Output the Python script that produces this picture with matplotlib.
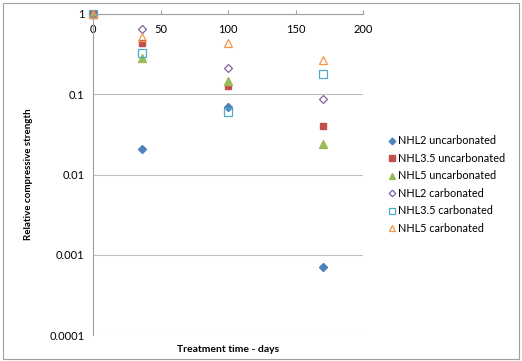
import matplotlib.pyplot as plt
from matplotlib.patches import Rectangle
from matplotlib.ticker import FixedLocator, FixedFormatter, NullLocator

plt.rcParams['font.family'] = ['Lato', 'DejaVu Sans']

days = [0, 36, 100, 170]
nhl2_unc = [1.0, 0.021, 0.070, 0.0007]
nhl35_unc = [1.0, 0.44, 0.128, 0.040]
nhl5_unc = [1.0, 0.28, 0.145, 0.024]
nhl2_carb = [1.0, 0.65, 0.21, 0.087]
nhl35_carb = [1.0, 0.33, 0.060, 0.18]
nhl5_carb = [1.0, 0.52, 0.43, 0.27]

labels = ['NHL2 uncarbonated', 'NHL3.5 uncarbonated', 'NHL5 uncarbonated',
          'NHL2 carbonated', 'NHL3.5 carbonated', 'NHL5 carbonated']
y_ticks = [1, 0.1, 0.01, 0.001, 0.0001]
y_tick_labels = ['1', '0.1', '0.01', '0.001', '0.0001']
x_ticks = [0, 50, 100, 150, 200]

fig = plt.figure(figsize=(5.22, 3.61), dpi=100)
ax = fig.add_axes([93 / 522, 1 - 335 / 361, 270 / 522, 321 / 361])

ax.plot(days, nhl2_unc, 'D', color='#4F81BD', ms=4.2, ls='none', label=labels[0], clip_on=False)
ax.plot(days, nhl35_unc, 's', color='#C0504D', ms=5, ls='none', label=labels[1], clip_on=False)
ax.plot(days, nhl5_unc, '^', color='#9BBB59', ms=5.5, ls='none', label=labels[2], clip_on=False)
ax.plot(days, nhl2_carb, 'D', mfc='none', mec='#8064A2', mew=0.9, ms=4.2, ls='none',
        label=labels[3], clip_on=False)
ax.plot(days, nhl35_carb, 's', mfc='none', mec='#4BACC6', mew=0.9, ms=5.5, ls='none',
        label=labels[4], clip_on=False)
ax.plot(days, nhl5_carb, '^', mfc='none', mec='#F79646', mew=0.9, ms=6, ls='none',
        label=labels[5], clip_on=False)

ax.set_yscale('log')
ax.set_ylim(0.0001, 1)
ax.set_xlim(0, 200)
ax.yaxis.set_major_locator(FixedLocator(y_ticks))
ax.yaxis.set_major_formatter(FixedFormatter(y_tick_labels))
ax.yaxis.set_minor_locator(NullLocator())
ax.set_xticks(x_ticks)
ax.grid(axis='y', color='#BEBEBE', lw=0.8)
ax.set_axisbelow(True)

for s in ['top', 'right']:
    ax.spines[s].set_visible(False)
ax.spines['bottom'].set_position(('data', 1))
ax.spines['bottom'].set_color('#A0A0A0')
ax.spines['left'].set_color('#A0A0A0')
ax.tick_params(axis='x', direction='in', length=3, color='#A0A0A0', labelsize=8, pad=7.5)
ax.tick_params(axis='y', length=0, labelsize=8, pad=6)

ax.set_xlabel('Treatment time - days', fontsize=7.5, fontweight='bold')
ax.xaxis.set_label_coords(0.5, -0.03)
ax.set_ylabel('Relative compressive strength', fontsize=7, fontweight='bold', labelpad=12)

fig.legend(loc='upper left', bbox_to_anchor=(382 / 522, 1 - 131 / 361), frameon=False,
           fontsize=7.8, handletextpad=0.1, handlelength=1.0, labelspacing=0.6,
           borderaxespad=0, markerscale=0.8)

fig.patches.append(Rectangle((3 / 522, 2 / 361), 516 / 522, 356 / 361, transform=fig.transFigure,
                             fill=False, edgecolor='#A0A0A0', lw=0.8))

fig.savefig('out.png', dpi=100)
